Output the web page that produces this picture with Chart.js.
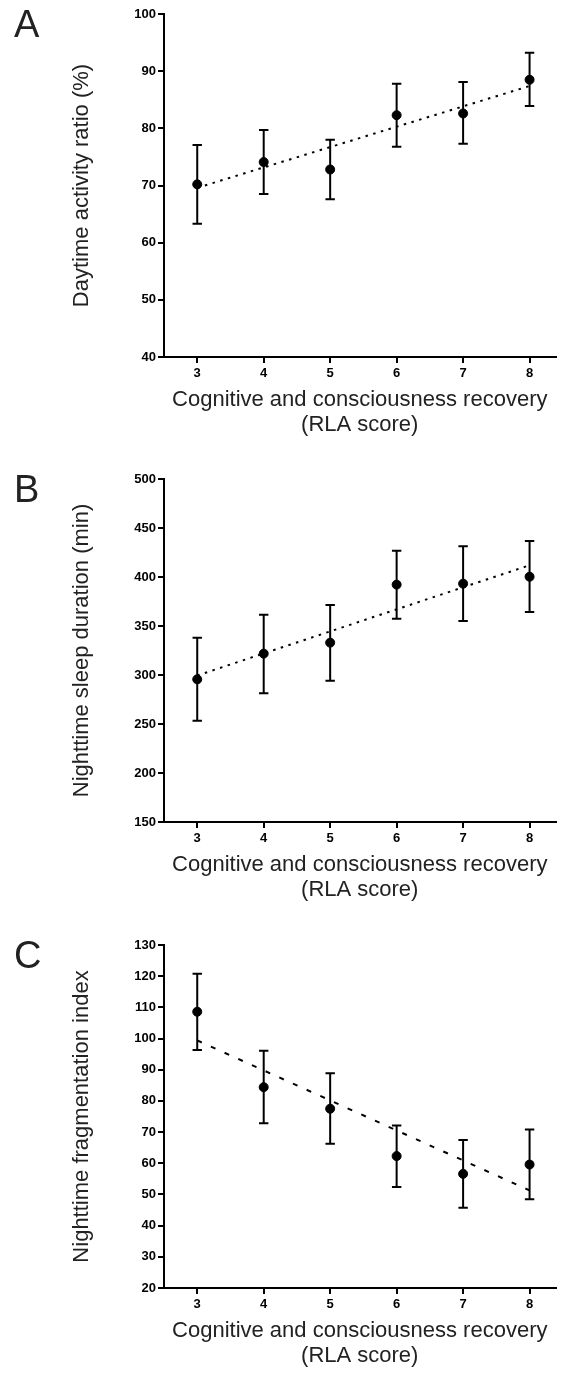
<!DOCTYPE html>
<html>
<head>
<meta charset="utf-8">
<title>RLA score panels</title>
<script src="https://cdn.jsdelivr.net/npm/chart.js@4.4.1/dist/chart.umd.min.js"></script>
<style>
  html, body { margin: 0; padding: 0; background: #fff; overflow: hidden; }
  #wrap { position: relative; width: 561px; height: 1374px; overflow: hidden; }
  #wrap canvas { position: absolute; left: 0; }
</style>
</head>
<body>
<div id="wrap">
  <canvas id="chartA" width="561" height="465" style="top:0px"></canvas>
  <canvas id="chartB" width="561" height="465" style="top:465px"></canvas>
  <canvas id="chartC" width="561" height="465" style="top:931px"></canvas>
</div>
<script>
// RLA score vs. activity / sleep measures - three stacked panels

// x categories (RLA score) and trend line end points
const rlaScores = [3, 4, 5, 6, 7, 8];
const trendX = [3, 8];
const xTitle = ['Cognitive and consciousness recovery', '(RLA score)'];

// Panel A - daytime activity ratio (%)
const daytimeMean = [70.2, 74.1, 72.8, 82.3, 82.6, 88.5];
const daytimeUpper = [77.1, 79.7, 78.0, 87.8, 88.1, 93.2];
const daytimeLower = [63.3, 68.5, 67.6, 76.8, 77.3, 83.9];
const daytimeTrend = [69.6, 87.4];
const daytimeTicks = [40, 50, 60, 70, 80, 90, 100];

// Panel B - nighttime sleep duration (min)
const sleepMean = [295.6, 321.8, 333.0, 392.2, 393.2, 400.3];
const sleepUpper = [338.1, 361.6, 371.4, 426.9, 431.3, 436.7];
const sleepLower = [253.4, 281.3, 294.2, 357.5, 355.1, 364.3];
const sleepTrend = [299.5, 412.0];
const sleepTicks = [150, 200, 250, 300, 350, 400, 450, 500];

// Panel C - nighttime fragmentation index
const fragMean = [108.6, 84.4, 77.5, 62.3, 56.6, 59.6];
const fragUpper = [120.8, 96.1, 88.9, 72.1, 67.5, 70.8];
const fragLower = [96.3, 72.8, 66.3, 52.4, 45.7, 48.5];
const fragTrend = [99.4, 51.3];
const fragTicks = [20, 30, 40, 50, 60, 70, 80, 90, 100, 110, 120, 130];

const charts = {};
const FONT = "Arial, 'Liberation Sans', sans-serif";

// error bars (mean +/- error) drawn with the chart's own scales
const errorBarsPlugin = {
  id: 'errorBars',
  afterDatasetsDraw(chart, args, opts) {
    const { ctx, scales } = chart;
    const half = 4.7;
    ctx.save();
    ctx.strokeStyle = '#000';
    ctx.lineWidth = 2;
    opts.x.forEach((xv, i) => {
      const px = scales.x.getPixelForValue(xv);
      const top = scales.y.getPixelForValue(opts.upper[i]);
      const bot = scales.y.getPixelForValue(opts.lower[i]);
      ctx.beginPath();
      ctx.moveTo(px, top);
      ctx.lineTo(px, bot);
      ctx.moveTo(px - half, top);
      ctx.lineTo(px + half, top);
      ctx.moveTo(px - half, bot);
      ctx.lineTo(px + half, bot);
      ctx.stroke();
    });
    ctx.restore();
  },
};

// panel letter (A, B, C) in the top-left corner
const panelLetterPlugin = {
  id: 'panelLetter',
  afterDraw(chart, args, opts) {
    const { ctx } = chart;
    ctx.save();
    ctx.font = '38px ' + FONT;
    ctx.fillStyle = '#222';
    ctx.textBaseline = 'alphabetic';
    ctx.textAlign = 'left';
    ctx.fillText(opts.text, 14, 36.5);
    ctx.restore();
  },
};

window.addEventListener('DOMContentLoaded', function () {
  plotarPainel('chartA', 'A', 'Daytime activity ratio (%)',
    daytimeMean, daytimeUpper, daytimeLower, daytimeTrend, daytimeTicks, [2.5, 5.5]);
  plotarPainel('chartB', 'B', 'Nighttime sleep duration (min)',
    sleepMean, sleepUpper, sleepLower, sleepTrend, sleepTicks, [2.5, 5.5]);
  plotarPainel('chartC', 'C', 'Nighttime fragmentation index',
    fragMean, fragUpper, fragLower, fragTrend, fragTicks, [5, 10]);
});

function plotarPainel(canvasId, letter, yTitle, mean, upper, lower, trend, yTicks, dash) {
  const ctx = document.getElementById(canvasId);
  if (!ctx) return;

  const config = {
    data: {
      datasets: [
        {
          type: 'line',
          data: trendX.map((x, i) => ({ x: x, y: trend[i] })),
          borderColor: '#000',
          borderWidth: 2,
          borderDash: dash,
          pointRadius: 0,
          fill: false,
        },
        {
          type: 'scatter',
          data: rlaScores.map((x, i) => ({ x: x, y: mean[i] })),
          backgroundColor: '#000',
          borderColor: '#000',
          pointRadius: 4.5,
          pointHoverRadius: 4.5,
        },
      ],
    },
    options: {
      responsive: false,
      animation: false,
      layout: { padding: { top: 14, left: 0, right: 0, bottom: 0 } },
      scales: {
        x: {
          type: 'linear',
          min: 2.5,
          max: 8.39,
          afterBuildTicks: (scale) => { scale.ticks = rlaScores.map((v) => ({ value: v })); },
          afterFit: (scale) => { scale.height = 108; },
          grid: { drawOnChartArea: false, tickLength: 6, color: '#000', lineWidth: 2 },
          border: { color: '#000', width: 2 },
          ticks: {
            padding: 3,
            color: '#000',
            font: { family: FONT, size: 13, weight: 'bold' },
          },
          title: {
            display: true,
            text: xTitle,
            color: '#222',
            padding: { top: 0, bottom: 27.8 },
            font: { family: FONT, size: 22, lineHeight: '25px' },
          },
        },
        y: {
          type: 'linear',
          min: yTicks[0],
          max: yTicks[yTicks.length - 1],
          afterBuildTicks: (scale) => { scale.ticks = yTicks.map((v) => ({ value: v })); },
          afterFit: (scale) => { scale.width = 164; },
          grid: { drawOnChartArea: false, tickLength: 6, color: '#000', lineWidth: 2 },
          border: { color: '#000', width: 2 },
          ticks: {
            padding: 2,
            color: '#000',
            font: { family: FONT, size: 13, weight: 'bold' },
          },
          title: {
            display: true,
            text: yTitle,
            color: '#222',
            padding: { top: 69.5, bottom: 0 },
            font: { family: FONT, size: 22, lineHeight: '25px' },
          },
        },
      },
      plugins: {
        legend: { display: false },
        tooltip: { enabled: false },
        errorBars: { x: rlaScores, upper: upper, lower: lower },
        panelLetter: { text: letter },
      },
    },
    plugins: [errorBarsPlugin, panelLetterPlugin],
  };

  charts[canvasId] = new Chart(ctx, config);
}
</script>
</body>
</html>
